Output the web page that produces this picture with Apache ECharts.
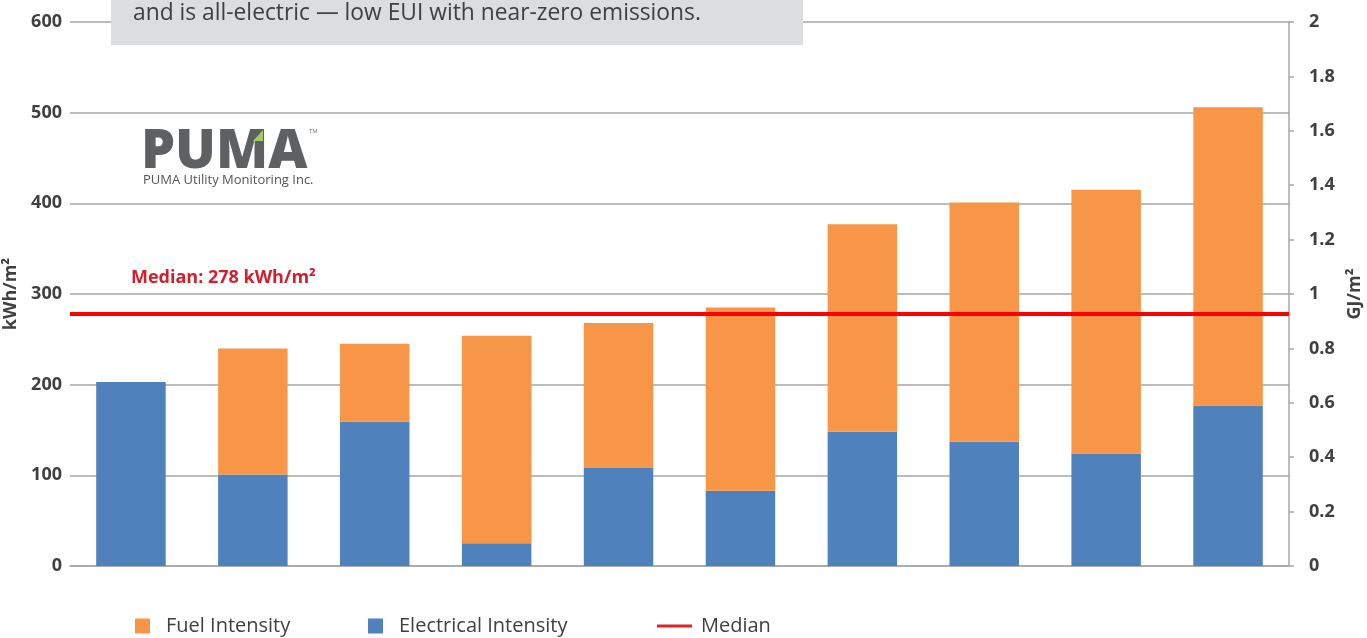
<!DOCTYPE html>
<html>
<head>
<meta charset="utf-8">
<script src="https://cdn.jsdelivr.net/npm/echarts@6/dist/echarts.min.js"></script>
<style>
  html, body { margin: 0; padding: 0; background: #ffffff; }
  #chart { width: 1367px; height: 638px; }
</style>
</head>
<body>
<div id="chart"></div>
<script>
// Energy use intensity per building, kWh/m²
const buildings = ['Building 1', 'Building 2', 'Building 3', 'Building 4', 'Building 5',
                   'Building 6', 'Building 7', 'Building 8', 'Building 9', 'Building 10'];
const electricalIntensity = [203, 101, 159, 25, 108, 83, 148, 137, 124, 177];
const fuelIntensity       = [0, 139, 86, 229, 160, 202, 229, 264, 291, 329];
const medianValue = 278;
const noteText = 'and is all-electric \u2014 low EUI with near-zero emissions.';

const FONT = '"Open Sans", "Noto Sans", sans-serif';
const ORANGE = '#f79646';
const BLUE = '#4f81bd';
const RED = '#ff0000';
const GRID = '#a6a6a6';
const TEXT = '#404040';

const chart = echarts.init(document.getElementById('chart'), null, { renderer: 'canvas' });

const legendCommon = {
  bottom: 2,
  padding: 0,
  orient: 'horizontal',
  itemWidth: 15,
  itemHeight: 15,
  textStyle: { fontFamily: FONT, fontSize: 20, color: TEXT, padding: [0, 0, 0, 11] },
  selectedMode: false
};

chart.setOption({
  backgroundColor: '#ffffff',
  animation: false,
  textStyle: { fontFamily: FONT },
  grid: { left: 70, right: 78, top: 22, bottom: 72, containLabel: false, outerBoundsMode: 'none' },
  legend: [
    Object.assign({}, legendCommon, { left: 135, data: [{ name: 'Fuel Intensity', icon: 'rect' }] }),
    Object.assign({}, legendCommon, { left: 368, data: [{ name: 'Electrical Intensity', icon: 'rect' }] }),
    Object.assign({}, legendCommon, {
      left: 657, itemWidth: 35, itemHeight: 3,
      textStyle: { fontFamily: FONT, fontSize: 20, color: TEXT, padding: [0, 0, 0, 4] },
      data: [{ name: 'Median', icon: 'rect', itemStyle: { color: '#d9262b' } }]
    })
  ],
  xAxis: {
    type: 'category',
    data: buildings,
    axisLine: { show: true, lineStyle: { color: GRID, width: 1.5 } },
    axisTick: { show: false },
    axisLabel: { show: false }
  },
  yAxis: [
    {
      type: 'value',
      min: 0, max: 600, interval: 100,
      name: 'kWh/m\u00b2',
      nameLocation: 'middle',
      nameGap: 45,
      nameRotate: 90,
      nameTextStyle: { fontFamily: FONT, fontSize: 18, fontWeight: 'bold', color: TEXT },
      axisLine: { show: false },
      axisTick: { show: false },
      axisLabel: { fontFamily: FONT, fontSize: 18, fontWeight: 'bold', color: TEXT, margin: 8 },
      splitLine: { show: true, lineStyle: { color: GRID, width: 1.5 } }
    },
    {
      type: 'value',
      position: 'right',
      min: 0, max: 2, interval: 0.2,
      name: 'GJ/m\u00b2',
      nameLocation: 'middle',
      nameGap: 50,
      nameRotate: 90,
      nameTextStyle: { fontFamily: FONT, fontSize: 18, fontWeight: 'bold', color: TEXT },
      axisLine: { show: true, lineStyle: { color: GRID, width: 1.5 } },
      axisTick: { show: true, inside: false, length: 5, lineStyle: { color: GRID, width: 1.5 } },
      axisLabel: { fontFamily: FONT, fontSize: 18, fontWeight: 'bold', color: TEXT, margin: 20 },
      splitLine: { show: false }
    }
  ],
  series: [
    {
      name: 'Electrical Intensity',
      type: 'bar',
      stack: 'eui',
      barCategoryGap: '43%',
      itemStyle: { color: BLUE },
      data: electricalIntensity
    },
    {
      name: 'Fuel Intensity',
      type: 'bar',
      stack: 'eui',
      barCategoryGap: '43%',
      itemStyle: { color: ORANGE },
      data: fuelIntensity
    },
    {
      name: 'Median',
      type: 'line',
      data: [],
      itemStyle: { color: '#d9262b' },
      lineStyle: { color: '#d9262b' },
      markLine: {
        silent: true,
        symbol: 'none',
        lineStyle: { color: RED, width: 4, type: 'solid' },
        label: {
          show: true,
          position: 'insideStartTop',
          distance: [61, 27],
          formatter: function (p) { return 'Median: ' + p.value + ' kWh/m\u00b2'; },
          fontFamily: FONT, fontSize: 18, fontWeight: 'bold', color: '#d0202e'
        },
        data: [{ yAxis: medianValue }]
      }
    }
  ],
  graphic: [
    // note box along the top edge
    {
      type: 'rect', left: 111, top: 0, z: 100,
      shape: { width: 692, height: 45 },
      style: { fill: '#dcdddf' }
    },
    {
      type: 'text', left: 133, top: 2, z: 101,
      style: { text: noteText, font: '22.8px ' + FONT, fill: TEXT }
    },
    // company logo
    {
      type: 'text', left: 141, top: 126, z: 50,
      style: { text: 'PUMA', font: '800 54px ' + FONT, fill: '#5f6062' }
    },
    {
      type: 'polygon', z: 51,
      shape: { points: [[253, 141], [263, 130], [263, 141]] },
      style: { fill: '#9ccd6a' }
    },
    {
      type: 'text', left: 309, top: 128, z: 50,
      style: { text: 'TM', font: '6px ' + FONT, fill: '#777777' }
    },
    {
      type: 'text', left: 143, top: 174, z: 50,
      style: { text: 'PUMA Utility Monitoring Inc.', font: '13px ' + FONT, fill: '#555555' }
    }
  ]
});
</script>
</body>
</html>
